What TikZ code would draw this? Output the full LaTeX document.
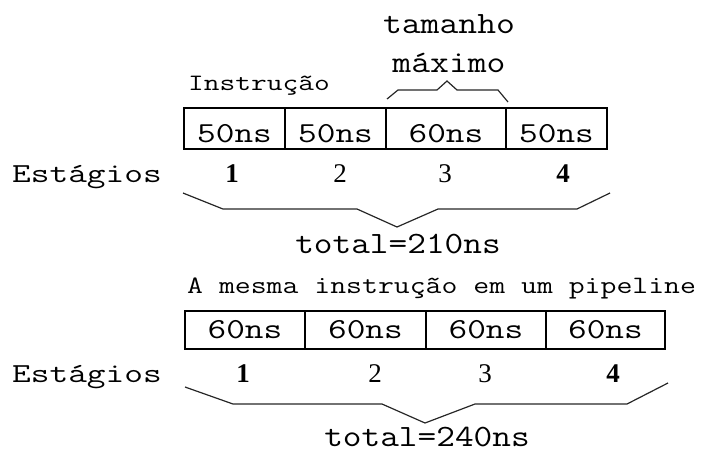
\documentclass[tikz,border=0pt]{standalone}
\usepackage{fontspec}
\usepackage{graphicx}
\newfontfamily\tnr{Liberation Serif}
\newcommand\cw[3]{\scalebox{#1}[1]{\fontsize{#2}{#2}\selectfont #3}}
\begin{document}
\begin{tikzpicture}[x=1pt,y=-1pt,
  txt/.style={inner sep=0pt, font=\ttfamily},
  num/.style={inner sep=0pt, anchor=base, font=\tnr\fontsize{27}{27}\selectfont},
  cellA/.style={draw, line width=1.3pt, inner sep=0pt, minimum height=41pt, text height=34pt, text depth=7pt, font=\ttfamily},
  cellB/.style={draw, line width=1.3pt, inner sep=0pt, minimum height=38pt, text height=27pt, text depth=11pt, font=\ttfamily},
  brace/.style={draw=black!85, line width=1.2pt, line join=miter}]
\useasboundingbox (0,0) rectangle (703,453);
% top labels
\node[txt, anchor=base] (tam) at (449,33) {\cw{1.18}{31}{tamanho}};
\node[txt, anchor=base] (max) at (449,72) {\cw{1.18}{31}{máximo}};
\node[txt, anchor=base west] (ins) at (188,90) {\cw{1.3}{23.5}{Instrução}};
% top cells
\node[cellA, minimum width=101pt] (a1) at (234.5,128.5) {\cw{1.25}{29}{50ns}};
\node[cellA, minimum width=101pt] (a2) at (335.5,128.5) {\cw{1.25}{29}{50ns}};
\node[cellA, minimum width=120pt] (a3) at (446,128.5) {\cw{1.25}{29}{60ns}};
\node[cellA, minimum width=101pt] (a4) at (556.5,128.5) {\cw{1.25}{29}{50ns}};
% brace max
\draw[brace] (387,99) -- (398,90) -- (437,90) -- (447,81) -- (457,90) -- (498,90) -- (508,102);
% stages row 1
\node[txt, anchor=base west] (e1) at (12,182) {\cw{1.32}{27.5}{Estágios}};
\node[num] (n11) at (232,182) {\bfseries 1};
\node[num] (n12) at (340,182) {2};
\node[num] (n13) at (445,182) {3};
\node[num] (n14) at (563,182) {\bfseries 4};
\draw[brace] (183,193) -- (223,209) -- (357,209) -- (397,227) -- (438,209) -- (577,209) -- (610,193);
\node[txt, anchor=base] (t1) at (398,253) {\cw{1.17}{31}{total=210ns}};
% second part
\node[txt, anchor=base west] (am) at (187,293) {\cw{1.235}{25}{A mesma instrução em um pipeline}};
\node[cellB, minimum width=120pt] (b1) at (245,330) {\cw{1.25}{29}{60ns}};
\node[cellB, minimum width=121pt] (b2) at (365.5,330) {\cw{1.25}{29}{60ns}};
\node[cellB, minimum width=120pt] (b3) at (486,330) {\cw{1.25}{29}{60ns}};
\node[cellB, minimum width=119pt] (b4) at (605.5,330) {\cw{1.25}{29}{60ns}};
\node[txt, anchor=base west] (e2) at (12,382) {\cw{1.32}{27.5}{Estágios}};
\node[num] (n21) at (243,382) {\bfseries 1};
\node[num] (n22) at (375,382) {2};
\node[num] (n23) at (485,382) {3};
\node[num] (n24) at (613,382) {\bfseries 4};
\draw[brace] (185,387) -- (233,404) -- (382,404) -- (425,423) -- (475,404) -- (627,404) -- (668,383);
\node[txt, anchor=base] (t2) at (427,446) {\cw{1.17}{31}{total=240ns}};
\end{tikzpicture}
\end{document}
